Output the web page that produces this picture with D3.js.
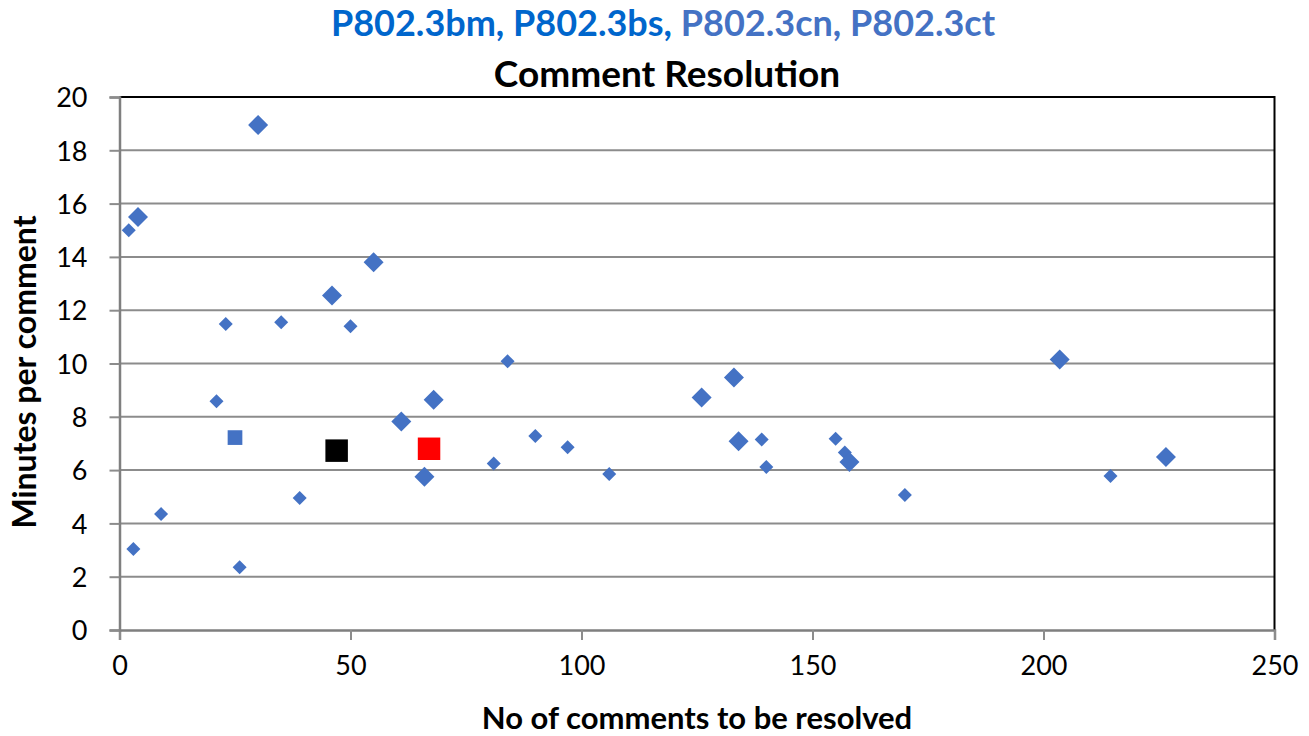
<!DOCTYPE html>
<html>
<head>
<meta charset="utf-8">
<script src="https://cdn.jsdelivr.net/npm/d3@7"></script>
<style>
  body { margin: 0; background: #fff; }
  text { font-family: Lato, "Open Sans", sans-serif; }
</style>
</head>
<body>
<div id="chart"></div>
<script>
// ── DATA ─────────────────────────────────────────────
const titleParts  = ["P802.3bm, P802.3bs, ", "P802.3cn, P802.3ct"];
const subTitle    = "Comment Resolution";
const xLabel      = "No of comments to be resolved";
const yLabel      = "Minutes per comment";
const xTicks      = [0, 50, 100, 150, 200, 250];
const yTicks      = [0, 2, 4, 6, 8, 10, 12, 14, 16, 18, 20];

// big diamonds
const bigX   = [4, 30, 46, 55, 61, 66, 68, 126, 133, 134, 158, 203.5, 226.5];
const bigY   = [15.5, 18.95, 12.55, 13.8, 7.82, 5.75, 8.64, 8.72, 9.47, 7.08, 6.3, 10.15, 6.49];
// small diamonds
const smallX = [2, 3, 9, 21, 23, 26, 35, 39, 50, 81, 84, 90, 97, 106, 139, 140, 155, 157, 170, 214.5];
const smallY = [15.0, 3.04, 4.35, 8.58, 11.48, 2.35, 11.55, 4.95, 11.4, 6.25, 10.08, 7.28, 6.86, 5.85, 7.15, 6.12, 7.18, 6.66, 5.07, 5.78];
// square markers
const squareX     = [25, 47, 67];
const squareY     = [7.22, 6.73, 6.8];
const squareColor = ["#4472C4", "#000000", "#FF0000"];
const squareBig   = [false, true, true];

// ── LAYOUT ───────────────────────────────────────────
const W = 1309, H = 736;
const plot = { left: 119.5, right: 1274.5, top: 97, bottom: 630 };

const svg = d3.select("#chart").append("svg")
  .attr("width", W).attr("height", H);

const x = d3.scaleLinear().domain([0, 250]).range([plot.left, plot.right]);
const y = d3.scaleLinear().domain([0, 20]).range([plot.bottom, plot.top]);

// gridlines
svg.append("g")
  .selectAll("line")
  .data(yTicks.filter(d => d > 0 && d < 20))
  .join("line")
    .attr("x1", plot.left).attr("x2", plot.right)
    .attr("y1", d => y(d)).attr("y2", d => y(d))
    .attr("stroke", "#8c8c8c").attr("stroke-width", 2);

// top / right border
svg.append("path")
  .attr("d", `M${plot.left},${plot.top}H${plot.right}V${plot.bottom}`)
  .attr("fill", "none").attr("stroke", "#000").attr("stroke-width", 2);

// axes
const xAxis = svg.append("g")
  .attr("transform", `translate(0,${plot.bottom})`)
  .call(d3.axisBottom(x).tickValues(xTicks).tickSize(10).tickPadding(16));
const yAxis = svg.append("g")
  .attr("transform", `translate(${plot.left},0)`)
  .call(d3.axisLeft(y).tickValues(yTicks).tickSize(10).tickPadding(22));

[xAxis, yAxis].forEach(g => {
  g.select(".domain").attr("stroke", "#7f7f7f").attr("stroke-width", 2.5);
  g.selectAll(".tick line").attr("stroke", "#8c8c8c").attr("stroke-width", 2);
  g.selectAll(".tick text")
    .attr("font-family", "Lato, sans-serif")
    .attr("font-size", 27).attr("fill", "#000");
});
yAxis.selectAll(".tick text").attr("dy", "0.36em");

// markers
const diamond = size => d3.symbol().type(d3.symbolSquare).size(size);
const blue = "#4472C4";

svg.append("g").selectAll("path")
  .data(smallX.map((v, i) => [v, smallY[i]]))
  .join("path")
    .attr("d", diamond(98)())
    .attr("transform", d => `translate(${x(d[0])},${y(d[1])}) rotate(45)`)
    .attr("fill", blue);

svg.append("g").selectAll("path")
  .data(bigX.map((v, i) => [v, bigY[i]]))
  .join("path")
    .attr("d", diamond(200)())
    .attr("transform", d => `translate(${x(d[0])},${y(d[1])}) rotate(45)`)
    .attr("fill", blue);

svg.append("g").selectAll("path")
  .data(squareX.map((v, i) => ({ x: v, y: squareY[i], c: squareColor[i], big: squareBig[i] })))
  .join("path")
    .attr("d", d => d3.symbol().type(d3.symbolSquare).size(d.big ? 506 : 216)())
    .attr("transform", d => `translate(${x(d.x)},${y(d.y)})`)
    .attr("fill", d => d.c);

// titles
const t1 = svg.append("text")
  .attr("x", 663).attr("y", 36)
  .attr("text-anchor", "middle")
  .attr("font-size", 36).attr("font-weight", "bold");
t1.append("tspan").attr("fill", "#0066CC").text(titleParts[0]);
t1.append("tspan").attr("fill", "#4472C4").text(titleParts[1]);

svg.append("text")
  .attr("x", 667).attr("y", 87)
  .attr("text-anchor", "middle")
  .attr("font-size", 37).attr("font-weight", "bold")
  .text(subTitle);

svg.append("text")
  .attr("x", 697).attr("y", 729)
  .attr("text-anchor", "middle")
  .attr("font-size", 31).attr("font-weight", "bold")
  .text(xLabel);

svg.append("text")
  .attr("transform", "translate(36,372) rotate(-90)")
  .attr("text-anchor", "middle")
  .attr("font-size", 32).attr("font-weight", "bold")
  .text(yLabel);
</script>
</body>
</html>
